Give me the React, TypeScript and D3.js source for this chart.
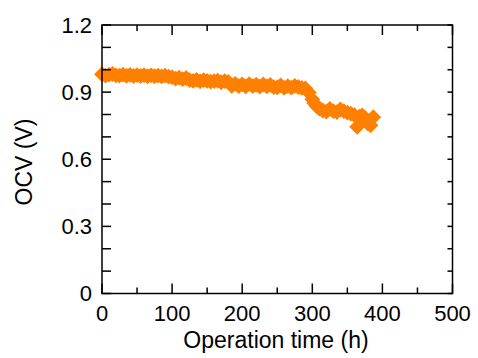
import React from "react";
import * as d3 from "d3";

const timeH = [
  0, 5, 10, 15, 20, 25, 30, 35, 40, 45, 50, 55, 60, 65, 70, 75, 80, 85, 90, 95,
  100, 105, 110, 115, 120, 125, 130, 135, 140, 145, 150, 155, 160, 165, 170, 175,
  180, 185, 190, 195, 200, 205, 210, 215, 220, 225, 230, 235, 240, 245, 250, 255,
  260, 265, 270, 275, 280, 285, 290, 295, 300, 303, 306, 310, 315, 320, 325, 330,
  335, 340, 345, 350, 355, 360, 364, 367, 371, 375, 379, 383, 387,
];
const ocvV = [
  0.980, 0.974, 0.978, 0.981, 0.975, 0.974, 0.978, 0.973, 0.977, 0.972, 0.976, 0.972, 0.976, 0.971, 0.975, 0.971, 0.974, 0.970, 0.974, 0.969,
  0.967, 0.960, 0.965, 0.958, 0.963, 0.954, 0.950, 0.955, 0.948, 0.954, 0.950, 0.947, 0.949, 0.951, 0.944, 0.949,
  0.946, 0.928, 0.937, 0.927, 0.935, 0.926, 0.936, 0.927, 0.933, 0.925, 0.934, 0.926, 0.932, 0.922, 0.921, 0.930,
  0.919, 0.927, 0.920, 0.928, 0.923, 0.919, 0.917, 0.898, 0.868, 0.850, 0.838, 0.826, 0.818, 0.813, 0.825, 0.815,
  0.811, 0.823, 0.815, 0.808, 0.804, 0.797, 0.745, 0.790, 0.796, 0.786, 0.760, 0.752, 0.788,
];
const xTickLabels = [0, 100, 200, 300, 400, 500];
const yTickLabels = [0, 0.3, 0.6, 0.9, 1.2];

export default function App() {
  const W = 478, H = 358;
  const L = 102, R = 452.5, T = 25, B = 293.5;
  const x = d3.scaleLinear().domain([0, 500]).range([L, R]);
  const y = d3.scaleLinear().domain([0, 1.2]).range([B, T]);
  const xMinor = d3.range(0, 501, 50);
  const yMinor = d3.range(0, 13).map((i) => i / 10);
  const sym = d3.symbol().type(d3.symbolSquare).size(125)()!;
  const font = "Arial, 'Liberation Sans', sans-serif";
  return (
    <svg width={W} height={H} style={{ position: "absolute", left: 0, top: 0 }} fontFamily={font}>
      <rect width={W} height={H} fill="#fff" />
      {timeH.map((t, i) => (
        <path key={i} d={sym} transform={`translate(${x(t)},${y(ocvV[i])}) rotate(45)`} fill="#FF8000" />
      ))}
      <g stroke="#000" strokeWidth={1.5} fill="none">
        <rect x={L} y={T} width={R - L} height={B - T} />
        {xMinor.map((v) => {
          const len = v % 100 === 0 ? 10 : 6;
          return (
            <g key={v}>
              <line x1={x(v)} x2={x(v)} y1={B} y2={B - len} />
              <line x1={x(v)} x2={x(v)} y1={T} y2={T + len} />
            </g>
          );
        })}
        {yMinor.map((v) => (
          <g key={v}>
            <line x1={L} x2={L + 9} y1={y(v)} y2={y(v)} />
            <line x1={R} x2={R - 5} y1={y(v)} y2={y(v)} />
          </g>
        ))}
      </g>
      <g fontSize={22} fill="#000">
        {xTickLabels.map((v) => (
          <text key={v} x={x(v)} y={321} textAnchor="middle">{v}</text>
        ))}
        {yTickLabels.map((v) => (
          <text key={v} x={92} y={y(v) + 7.5} textAnchor="end">{v === 0 ? "0" : v.toFixed(1)}</text>
        ))}
      </g>
      <text x={276} y={348} fontSize={23} textAnchor="middle">Operation time (h)</text>
      <text transform="translate(32,162) rotate(-90)" fontSize={23} textAnchor="middle">OCV (V)</text>
    </svg>
  );
}
